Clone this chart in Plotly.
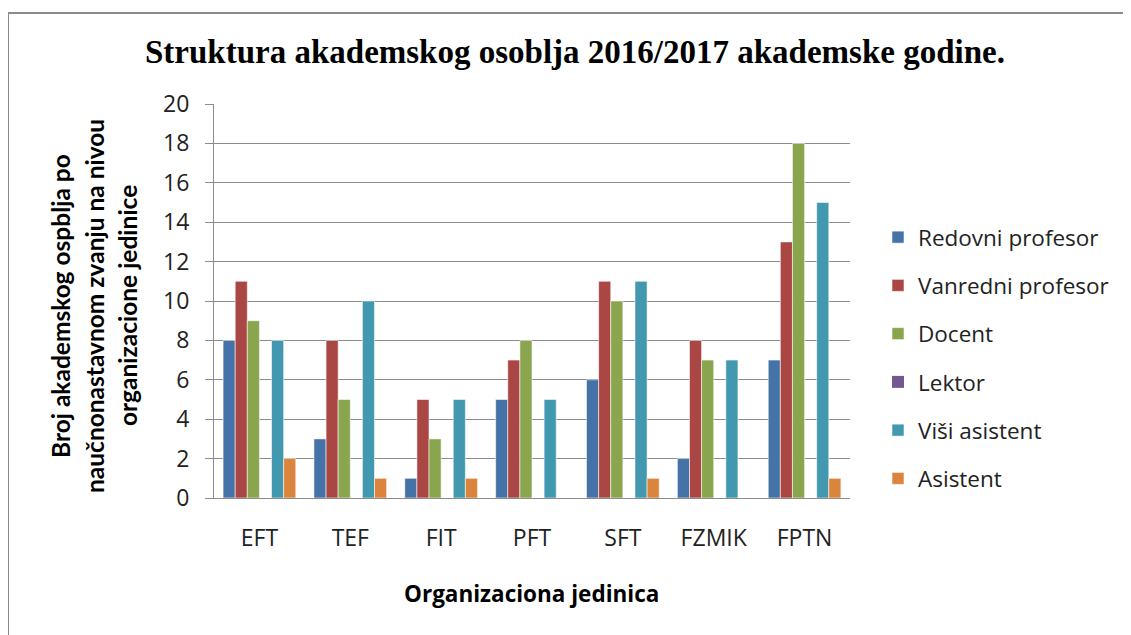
import plotly.graph_objects as go

categories = ["EFT", "TEF", "FIT", "PFT", "SFT", "FZMIK", "FPTN"]
series_names = ["Redovni profesor", "Vanredni profesor", "Docent", "Lektor", "Viši asistent", "Asistent"]
redovni = [8, 3, 1, 5, 6, 2, 7]
vanredni = [11, 8, 5, 7, 11, 8, 13]
docent = [9, 5, 3, 8, 10, 7, 18]
lektor = [0, 0, 0, 0, 0, 0, 0]
visi_asistent = [8, 10, 5, 5, 11, 7, 15]
asistent = [2, 1, 1, 0, 1, 0, 1]
series_values = [redovni, vanredni, docent, lektor, visi_asistent, asistent]
colors = ["#4572A7", "#AA4643", "#89A54E", "#71588F", "#4198AF", "#DB843D"]

# page body has an 8px margin: positions below are reference pixels minus 8
OFF = 8
W, H = 1131, 635
L, T = 214 - OFF, 104 - OFF
R = W - (850 - OFF)
B = H - (498 - OFF)
pw, ph = W - L - R, H - T - B

def px_x(x):
    return (x - OFF - L) / pw

def px_y(y):
    return (H - B - (y - OFF)) / ph

FONT = "Open Sans"
TFONT = "Lato"

fig = go.Figure()
for name, vals, col in zip(series_names, series_values, colors):
    fig.add_trace(go.Bar(
        x=categories, y=vals, name=name, legendgroup=name,
        marker=dict(color=col, line=dict(color="rgba(255,255,255,0.55)", width=1 if name != "Lektor" else 0)),
    ))

fig.update_layout(
    width=W, height=H,
    margin=dict(l=L, r=R, t=T, b=B),
    paper_bgcolor="white", plot_bgcolor="white",
    barmode="group", bargap=0.2, bargroupgap=0,
    font=dict(family=FONT, size=22, color="#222"),
    showlegend=True,
    legend=dict(x=px_x(878), xanchor="left", y=px_y(358), yanchor="middle",
                font=dict(family=FONT, size=22.5, color="#222"),
                tracegroupgap=16, traceorder="grouped", bgcolor="rgba(0,0,0,0)"),
    xaxis=dict(showgrid=False, showline=True, linecolor="#8c8c8c", linewidth=1,
               ticks="", tickfont=dict(family=FONT, size=23, color="#222"),
               ticklabelstandoff=19, range=[-0.5, 6.5]),
    yaxis=dict(range=[0, 20], dtick=2, showgrid=True, gridcolor="#8c8c8c", gridwidth=1,
               showline=True, linecolor="#8c8c8c", linewidth=1,
               ticks="outside", ticklen=8, tickcolor="#8c8c8c",
               tickfont=dict(family=FONT, size=23, color="#222"),
               ticklabelstandoff=11, zeroline=False),
)

# Title
fig.add_annotation(text="<b>Struktura akademskog osoblja 2016/2017 akademske godine.</b>",
                   xref="paper", yref="paper", x=px_x(575), y=px_y(52),
                   xanchor="center", yanchor="middle", showarrow=False,
                   font=dict(family="Liberation Serif", size=33, color="#000"))

# X axis title
fig.add_annotation(text="<b>Organizaciona jedinica</b>",
                   xref="paper", yref="paper", x=px_x(531), y=px_y(593),
                   xanchor="center", yanchor="middle", showarrow=False,
                   font=dict(family=FONT, size=22.5, color="#000"))

# Y axis title (three lines)
ylines = ["Broj akademskog ospblja po", "naučnonastavnom zvanju na nivou", "organizacione jedinice"]
for line, xc in zip(ylines, [60, 94, 127]):
    fig.add_annotation(text="<b>" + line + "</b>", textangle=-90,
                       xref="paper", yref="paper", x=px_x(xc), y=px_y(306),
                       xanchor="center", yanchor="middle", showarrow=False,
                       font=dict(family=TFONT, size=24.5, color="#000"))

# Chart border
fig.add_shape(type="rect", xref="paper", yref="paper",
              x0=px_x(8), x1=px_x(1150), y0=px_y(660), y1=px_y(13),
              line=dict(color="#8a8a8a", width=2), fillcolor="rgba(0,0,0,0)", layer="below")

fig.write_html("out.html")
